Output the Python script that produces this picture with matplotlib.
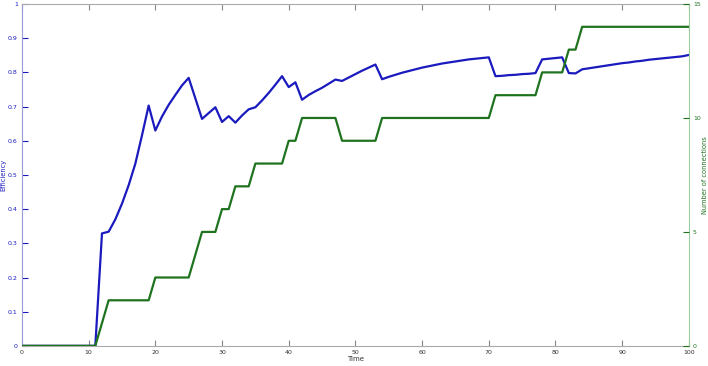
import numpy as np
import matplotlib
matplotlib.use("Agg")
import matplotlib.pyplot as plt

# time steps 0..100
time = list(range(0, 101))

efficiency = [0]*12 + [
    0.329, 0.334, 0.370, 0.416, 0.470, 0.533, 0.616, 0.703,        # 12-19
    0.630, 0.671, 0.705, 0.734, 0.762, 0.784, 0.724, 0.664,        # 20-27
    0.681, 0.698, 0.655, 0.672, 0.653, 0.674, 0.692, 0.698,        # 28-35
    0.718, 0.740, 0.764, 0.789, 0.757, 0.771, 0.720, 0.734,        # 36-43
    0.745, 0.755, 0.767, 0.779, 0.775, 0.785, 0.795, 0.805,        # 44-51
    0.814, 0.823, 0.780, 0.787, 0.793, 0.799, 0.804, 0.809,        # 52-59
    0.814, 0.818, 0.822, 0.826, 0.829, 0.832, 0.835, 0.838,        # 60-67
    0.840, 0.842, 0.844, 0.789, 0.790, 0.792, 0.793, 0.795,        # 68-75
    0.796, 0.798, 0.838, 0.840, 0.842, 0.844, 0.798, 0.797,        # 76-83
    0.809, 0.812, 0.815, 0.818, 0.821, 0.824, 0.827, 0.829,        # 84-91
    0.832, 0.834, 0.837, 0.839, 0.841, 0.843, 0.845, 0.847,        # 92-99
    0.851,                                                         # 100
]

connections = ([0]*12 + [1] + [2]*7 + [3]*6 + [4] + [5]*3 + [6]*2 + [7]*3 +
               [8]*5 + [9]*2 + [10]*6 + [9]*6 + [10]*17 + [11]*7 + [12]*4 +
               [13]*2 + [14]*17)

blue = (0.10, 0.10, 0.75)
green = (0.12, 0.45, 0.12)

fig = plt.figure(figsize=(7.08, 3.66), dpi=100)
ax = fig.add_axes([0.031, 0.055, 0.942, 0.934])
ax.plot(time, efficiency, color=blue, lw=1.6)
ax.set_xlim(0, 100)
ax.set_ylim(0, 1)
ax.set_xticks(range(0, 101, 10))
ax.set_yticks(np.arange(0, 1.01, 0.1))
ax.set_yticklabels(["0"] + ["%.1f" % v for v in np.arange(0.1, 0.95, 0.1)] + ["1"])
ax.tick_params(axis="x", direction="in", top=True, length=4, labelsize=4.5,
               color="#888888", labelcolor="#333333", pad=3)
ax.tick_params(axis="y", direction="in", right=True, length=4, labelsize=4.5,
               color=blue, labelcolor=blue, pad=3)
ax.set_xlabel("Time", fontsize=5, labelpad=1, color="#333333")
ax.set_ylabel("Efficiency", fontsize=4.8, color=blue)
ax.yaxis.set_label_coords(-0.024, 0.5)
for s in ["top", "bottom"]:
    ax.spines[s].set_color("#aaaaaa")
ax.spines["left"].set_color("#9a9ad8")
ax.spines["right"].set_color("#9ccc9c")

ax2 = ax.twinx()
ax2.plot(time, connections, color=green, lw=1.6)
ax2.set_ylim(0, 15)
ax2.set_yticks([0, 5, 10, 15])
ax2.tick_params(axis="y", direction="in", length=4, labelsize=4.5,
                color=green, labelcolor=green, pad=3)
ax2.set_ylabel("Number of connections", fontsize=4.8, color=green)
ax2.yaxis.set_label_coords(1.019, 0.5)
for s in ax2.spines.values():
    s.set_visible(False)

fig.savefig("out.png", dpi=100)
